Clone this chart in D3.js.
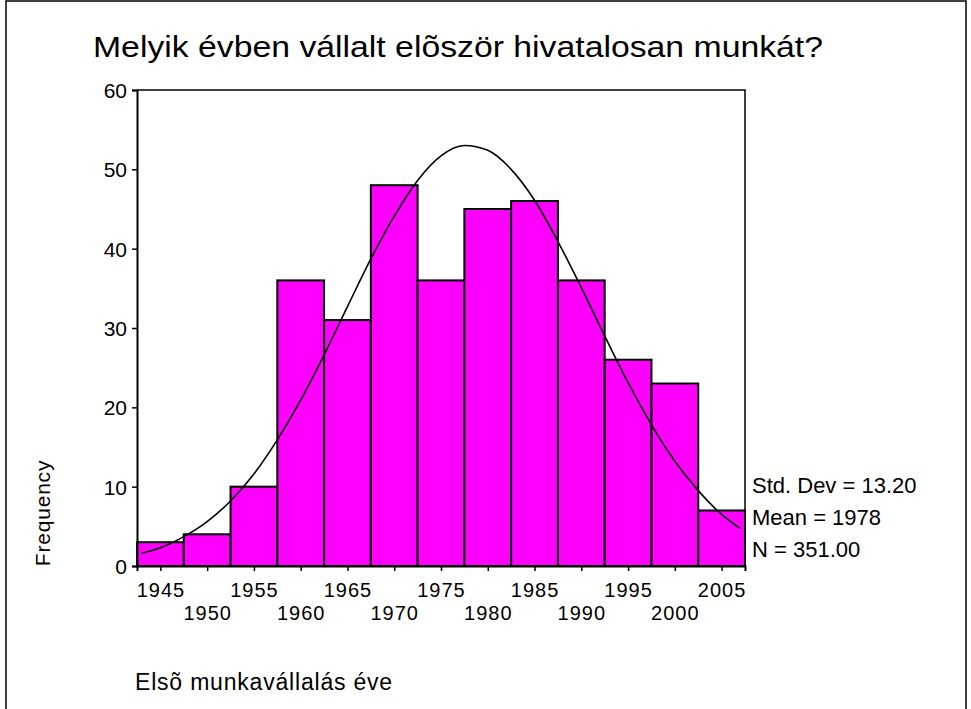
<!DOCTYPE html>
<html>
<head>
<meta charset="utf-8">
<script src="https://cdn.jsdelivr.net/npm/d3@7"></script>
<style>
  body { margin: 0; background: #fff; }
  svg text { font-family: "Liberation Sans", Arial, sans-serif; fill: #000; }
</style>
</head>
<body>
<svg width="971" height="709"></svg>
<script>
// bins of 5 years, labelled by centre
const years = [1945, 1950, 1955, 1960, 1965, 1970, 1975, 1980, 1985, 1990, 1995, 2000, 2005];
const counts = [3, 4, 10, 36, 31, 48, 36, 45, 46, 36, 26, 23, 7];
const yTicks = [0, 10, 20, 30, 40, 50, 60];
// normal curve (year, frequency)
const curveYears = [1943, 1945, 1947.5, 1950, 1952.5, 1955, 1957.5, 1960, 1962.5, 1965, 1967.5, 1970, 1972.5,
  1975, 1977.5, 1980, 1982.5, 1985, 1987.5, 1990, 1992.5, 1995, 1997.5, 2000, 2002.5, 2005, 2007];
const curveVals = [1.6, 2.3, 3.7, 5.6, 8.2, 11.6, 15.9, 20.9, 26.6, 32.7, 38.7, 44.1, 48.6,
  51.7, 53.0, 52.4, 50.0, 46.1, 40.9, 35.1, 29.0, 23.1, 17.8, 13.2, 9.5, 6.5, 4.7];
const stats = ["Std. Dev = 13.20", "Mean = 1978", "N = 351.00"];

const svg = d3.select("svg");
const binW = 5;
const FONT = "Liberation Sans, Arial, sans-serif";

const x = d3.scaleLinear().domain([1942.5, 2007.5]).range([137, 745]);
const y = d3.scaleLinear().domain([0, 60]).range([566, 90]);

// outer frame
svg.append("rect")
  .attr("x", 6).attr("y", 1).attr("width", 960).attr("height", 720)
  .attr("fill", "none").attr("stroke", "#000").attr("stroke-width", 1.5);

svg.append("text")
  .attr("x", 93).attr("y", 57)
  .attr("font-size", 29)
  .attr("textLength", 730).attr("lengthAdjust", "spacingAndGlyphs")
  .text("Melyik évben vállalt elõször hivatalosan munkát?");

// plot box top + right
svg.append("path")
  .attr("d", `M${x(1942.5)},${y(60)}H${x(2007.5)}V${y(0)}`)
  .attr("fill", "none").attr("stroke", "#000").attr("stroke-width", 1.5);

svg.append("g")
  .selectAll("rect")
  .data(counts)
  .enter()
  .append("rect")
  .attr("x", (d, i) => x(years[i] - binW / 2))
  .attr("y", d => y(d))
  .attr("width", (d, i) => x(years[i] + binW / 2) - x(years[i] - binW / 2))
  .attr("height", d => y(0) - y(d))
  .attr("fill", "#ff00ff")
  .attr("stroke", "#000")
  .attr("stroke-width", 2);

const line = d3.line()
  .x((d, i) => x(curveYears[i]))
  .y(d => y(d))
  .curve(d3.curveMonotoneX);

svg.append("path")
  .attr("d", line(curveVals))
  .attr("fill", "none").attr("stroke", "#000").attr("stroke-width", 1.6);

// y axis
const yAxis = svg.append("g")
  .attr("transform", `translate(${x(1942.5)},0)`)
  .call(d3.axisLeft(y).tickValues(yTicks).tickSize(5).tickPadding(5));
yAxis.select(".domain").attr("stroke-width", 2);
yAxis.selectAll(".tick line").attr("stroke-width", 1.5);
yAxis.selectAll("text").attr("font-size", 21).attr("font-family", FONT).attr("dy", "0.36em");

// x axis, labels staggered on two rows
const xAxis = svg.append("g")
  .attr("transform", `translate(0,${y(0)})`)
  .call(d3.axisBottom(x).tickValues(years).tickSize(5).tickFormat(d3.format("d")));
xAxis.select(".domain").attr("stroke-width", 2);
xAxis.selectAll(".tick line").attr("stroke-width", 1.5);
xAxis.selectAll("text")
  .attr("font-size", 20)
  .attr("font-family", FONT)
  .attr("letter-spacing", 1)
  .attr("dy", null)
  .attr("y", (d, i) => (i % 2 === 0 ? 31 : 54));

svg.append("text")
  .attr("transform", "translate(50,513) rotate(-90)")
  .attr("text-anchor", "middle")
  .attr("font-size", 21)
  .attr("letter-spacing", 0.8)
  .text("Frequency");

svg.append("g")
  .selectAll("text")
  .data(stats)
  .enter()
  .append("text")
  .attr("x", 752)
  .attr("y", (d, i) => 493 + i * 32)
  .attr("font-size", 22)
  .text(d => d);

svg.append("text")
  .attr("x", 135).attr("y", 690)
  .attr("font-size", 23)
  .attr("letter-spacing", 0.8)
  .text("Elsõ munkavállalás éve");
</script>
</body>
</html>
